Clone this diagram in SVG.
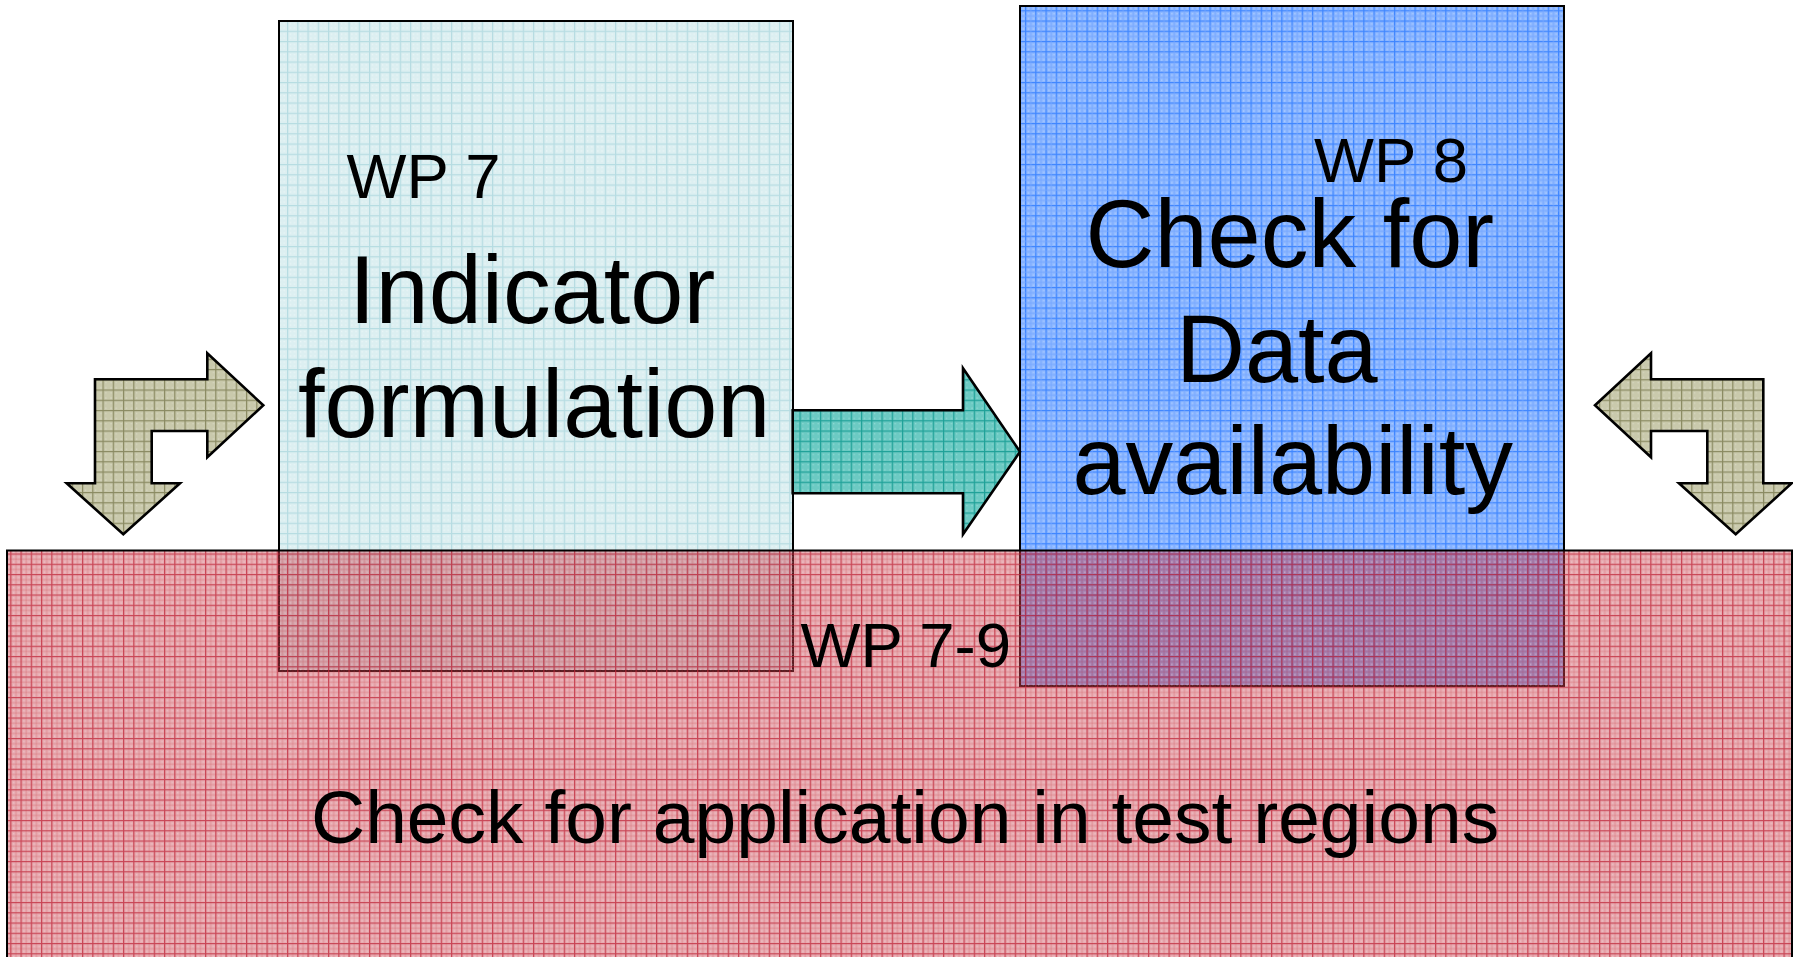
<svg xmlns="http://www.w3.org/2000/svg" width="1793" height="957" viewBox="0 0 1793 957">
  <defs>
    <!-- small grid textures used as fills -->
    <pattern id="gridCyan" width="10.25" height="10.25" patternUnits="userSpaceOnUse">
      <rect width="10.25" height="10.25" fill="#DCEFF1"/>
      <path d="M0 0.6H10.25M0.6 0V10.25" stroke="#B6DCE2" stroke-width="1.2"/>
      <path d="M3 3h1v1h-1zM7 7h1v1h-1zM3 7h1v1h-1zM7 3h1v1h-1z" fill="#FFFFFF" opacity="0.7"/>
    </pattern>
    <pattern id="gridBlue" width="10.25" height="10.25" patternUnits="userSpaceOnUse">
      <rect width="10.25" height="10.25" fill="#8EB8FF"/>
      <path d="M0 0.6H10.25M0.6 0V10.25" stroke="#3F86FF" stroke-width="1.3"/>
      <path d="M0 5.7H10.25M5.7 0V10.25" stroke="#74A6FF" stroke-width="0.8"/>
      <path d="M3 3h1v1h-1zM8 8h1v1h-1zM3 8h1v1h-1zM8 3h1v1h-1z" fill="#C8DDFF" opacity="0.8"/>
    </pattern>
    <pattern id="gridRed" width="10.25" height="10.25" patternUnits="userSpaceOnUse">
      <rect width="10.25" height="10.25" fill="#C83A48" fill-opacity="0.42"/>
      <path d="M0 0.6H10.25M0.6 0V10.25" stroke="#BE2436" stroke-opacity="0.75" stroke-width="1.3"/>
      <path d="M0 5.7H10.25M5.7 0V10.25" stroke="#C83A48" stroke-opacity="0.3" stroke-width="0.8"/>
      <path d="M3 3h1v1h-1zM8 8h1v1h-1zM3 8h1v1h-1zM8 3h1v1h-1z" fill="#FFFFFF" opacity="0.35"/>
    </pattern>
    <pattern id="gridOlive" width="10.25" height="10.25" patternUnits="userSpaceOnUse">
      <rect width="10.25" height="10.25" fill="#C9C9AC"/>
      <path d="M0 0.6H10.25M0.6 0V10.25" stroke="#8A8A62" stroke-width="1.2"/>
      <path d="M3 3h1v1h-1zM8 8h1v1h-1zM3 8h1v1h-1zM8 3h1v1h-1z" fill="#E6E6D6" opacity="0.8"/>
    </pattern>
    <pattern id="gridTeal" width="10.25" height="10.25" patternUnits="userSpaceOnUse">
      <rect width="10.25" height="10.25" fill="#6CCAC3"/>
      <path d="M0 0.6H10.25M0.6 0V10.25" stroke="#1FA198" stroke-width="1.2"/>
      <path d="M3 3h1v1h-1zM8 8h1v1h-1zM3 8h1v1h-1zM8 3h1v1h-1z" fill="#B4E8E4" opacity="0.8"/>
    </pattern>
  </defs>
  <style>
    text { font-family: "Liberation Sans", Arial, sans-serif; fill: #000000; }
    .box { stroke: #000000; stroke-width: 2; }
    .arrow { stroke: #000000; stroke-width: 2.6; stroke-linejoin: miter; }
    .small { font-size: 63.5px; }
    .big { font-size: 95.5px; }
    .mid { font-size: 75px; }
  </style>

  <rect width="1793" height="957" fill="#FFFFFF"/>

  <!-- WP 7 -->
  <g id="wp7">
    <rect class="box" x="279" y="21" width="514" height="650" fill="url(#gridCyan)"/>
    <text class="small" x="346.5" y="198.3">WP 7</text>
    <text class="big" x="349" y="323.3">Indicator</text>
    <text class="big" x="298" y="436.7">formulation</text>
  </g>

  <!-- WP 8 -->
  <g id="wp8">
    <rect class="box" x="1020" y="6" width="544" height="680" fill="url(#gridBlue)"/>
    <text class="small" x="1314" y="182.3">WP 8</text>
    <text class="big" x="1085.5" y="266.7">Check for</text>
    <text class="big" x="1176" y="381.7">Data</text>
    <text class="big" x="1072.5" y="493.5">availability</text>
  </g>

  <!-- arrows -->
  <g id="connectors">
    <polygon class="arrow" fill="url(#gridOlive)" points="95,379.3 207.3,379.3 207.3,353.3 263.3,405.3 207.3,457.3 207.3,431 151.7,431 151.7,483.3 180,483.3 123.3,534.3 66.7,483.3 95,483.3"/>
    <polygon class="arrow" fill="url(#gridTeal)" points="792.7,410.3 963,410.3 963,368.3 1020,451.7 963,534.3 963,493.3 792.7,493.3"/>
    <polygon class="arrow" fill="url(#gridOlive)" points="1763.3,379.3 1651,379.3 1651,353.3 1595,405.3 1651,457.3 1651,431 1707.3,431 1707.3,483.3 1679,483.3 1735.7,534.3 1791.7,483.3 1763.3,483.3"/>
  </g>

  <!-- WP 7-9 -->
  <g id="wp7-9">
    <rect class="box" x="7" y="550.5" width="1785" height="430" fill="url(#gridRed)"/>
    <text class="small" x="800.5" y="666.7">WP 7-9</text>
    <text class="mid" x="311" y="843">Check for application in test regions</text>
  </g>
</svg>
